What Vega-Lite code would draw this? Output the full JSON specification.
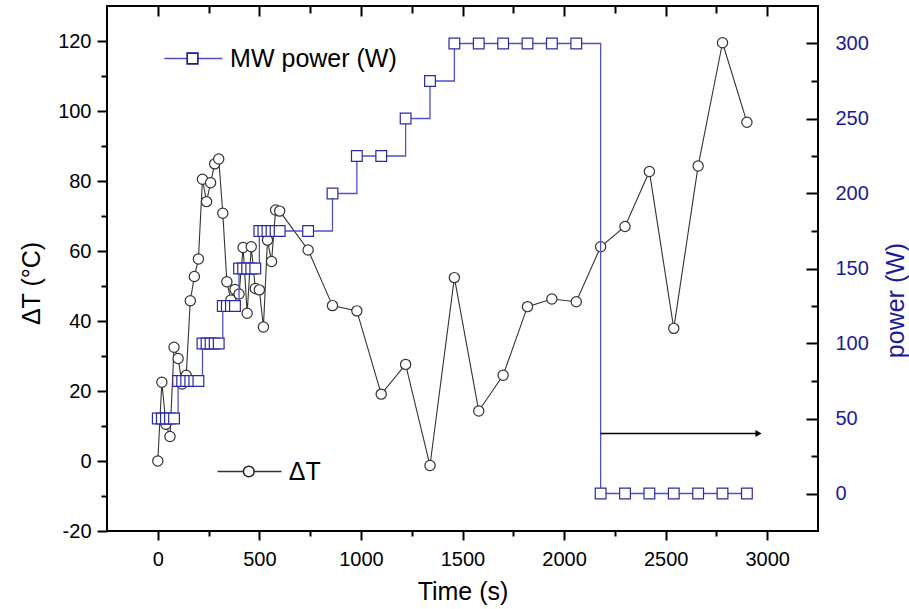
{
  "$schema": "https://vega.github.io/schema/vega-lite/v6.json",
  "width": 711,
  "height": 525,
  "autosize": {"type": "none"},
  "padding": {"left": 107, "top": 6, "right": 91, "bottom": 78},
  "background": "white",
  "config": {
    "view": {"stroke": "black", "strokeWidth": 2},
    "font": "Liberation Sans",
    "axis": {
      "grid": false,
      "domain": false,
      "labelFont": "Liberation Sans",
      "labelFontSize": 20,
      "labelColor": "black",
      "titleFont": "Liberation Sans",
      "titleFontSize": 25,
      "titleFontWeight": "normal",
      "titleColor": "black",
      "tickColor": "black",
      "tickWidth": 2,
      "labelFlush": false,
      "labelOverlap": false
    }
  },
  "datasets": {
    "dT": [
      {"t": 0, "T": 0}, {"t": 20, "T": 22.5}, {"t": 40, "T": 10.5}, {"t": 60, "T": 7},
      {"t": 80, "T": 32.5}, {"t": 100, "T": 29.3}, {"t": 120, "T": 22}, {"t": 140, "T": 24.5},
      {"t": 160, "T": 45.8}, {"t": 180, "T": 52.7}, {"t": 200, "T": 57.7}, {"t": 220, "T": 80.5},
      {"t": 240, "T": 74.1}, {"t": 260, "T": 79.5}, {"t": 280, "T": 84.9}, {"t": 300, "T": 86.3},
      {"t": 320, "T": 70.8}, {"t": 340, "T": 51.2}, {"t": 360, "T": 46}, {"t": 380, "T": 49},
      {"t": 400, "T": 47.7}, {"t": 420, "T": 61}, {"t": 440, "T": 42.2}, {"t": 460, "T": 61.2},
      {"t": 480, "T": 49.3}, {"t": 500, "T": 48.9}, {"t": 520, "T": 38.3}, {"t": 540, "T": 63.1},
      {"t": 560, "T": 57}, {"t": 580, "T": 71.7}, {"t": 600, "T": 71.4}, {"t": 740, "T": 60.3},
      {"t": 860, "T": 44.4}, {"t": 980, "T": 42.9}, {"t": 1100, "T": 19.1}, {"t": 1220, "T": 27.6},
      {"t": 1340, "T": -1.3}, {"t": 1460, "T": 52.4}, {"t": 1580, "T": 14.3}, {"t": 1700, "T": 24.5},
      {"t": 1820, "T": 44.1}, {"t": 1940, "T": 46.3}, {"t": 2060, "T": 45.5}, {"t": 2180, "T": 61.2},
      {"t": 2300, "T": 67}, {"t": 2420, "T": 82.7}, {"t": 2540, "T": 37.9}, {"t": 2660, "T": 84.3},
      {"t": 2780, "T": 119.5}, {"t": 2900, "T": 96.8}
    ],
    "pw": [
      {"t": 0, "P": 50}, {"t": 20, "P": 50}, {"t": 40, "P": 50}, {"t": 60, "P": 50}, {"t": 80, "P": 50},
      {"t": 100, "P": 75}, {"t": 120, "P": 75}, {"t": 140, "P": 75}, {"t": 160, "P": 75}, {"t": 180, "P": 75}, {"t": 200, "P": 75},
      {"t": 220, "P": 100}, {"t": 240, "P": 100}, {"t": 260, "P": 100}, {"t": 280, "P": 100}, {"t": 300, "P": 100},
      {"t": 320, "P": 125}, {"t": 340, "P": 125}, {"t": 360, "P": 125}, {"t": 380, "P": 125},
      {"t": 400, "P": 150}, {"t": 420, "P": 150}, {"t": 440, "P": 150}, {"t": 460, "P": 150}, {"t": 480, "P": 150},
      {"t": 500, "P": 175}, {"t": 520, "P": 175}, {"t": 540, "P": 175}, {"t": 560, "P": 175}, {"t": 580, "P": 175}, {"t": 600, "P": 175},
      {"t": 740, "P": 175}, {"t": 860, "P": 200}, {"t": 980, "P": 225}, {"t": 1100, "P": 225},
      {"t": 1220, "P": 250}, {"t": 1340, "P": 275},
      {"t": 1460, "P": 300}, {"t": 1580, "P": 300}, {"t": 1700, "P": 300}, {"t": 1820, "P": 300}, {"t": 1940, "P": 300}, {"t": 2060, "P": 300},
      {"t": 2180, "P": 0}, {"t": 2300, "P": 0}, {"t": 2420, "P": 0}, {"t": 2540, "P": 0}, {"t": 2660, "P": 0}, {"t": 2780, "P": 0}, {"t": 2900, "P": 0}
    ]
  },
  "resolve": {"scale": {"y": "independent"}, "axis": {"x": "independent", "y": "independent"}},
  "layer": [
    {
      "data": {"name": "dT"},
      "mark": {"type": "line", "color": "#333333", "strokeWidth": 1.1},
      "encoding": {
        "x": {"field": "t", "type": "quantitative",
              "scale": {"domain": [-250, 3250], "nice": false, "zero": false},
              "axis": {"orient": "bottom", "values": [0, 500, 1000, 1500, 2000, 2500, 3000], "labelExpr": "'' + datum.value", "tickSize": 9, "labelPadding": 9, "title": "Time (s)", "titleX": 355.5, "titleY": 60, "titleBaseline": "middle", "titleAlign": "center"}},
        "y": {"field": "T", "type": "quantitative",
              "scale": {"domain": [-20, 130], "nice": false, "zero": false},
              "axis": {"orient": "left", "values": [-20, 0, 20, 40, 60, 80, 100, 120], "labelExpr": "'' + datum.value", "tickSize": 10, "labelPadding": 6, "title": "ΔT (°C)", "titleAngle": 270, "titleX": -76, "titleY": 277, "titleBaseline": "middle", "titleAlign": "center"}}
      }
    },
    {
      "data": {"name": "dT"},
      "mark": {"type": "point", "shape": "circle", "filled": true, "fill": "white", "stroke": "#333333", "strokeWidth": 1.2, "size": 105, "opacity": 1},
      "encoding": {
        "x": {"field": "t", "type": "quantitative", "scale": {"domain": [-250, 3250], "nice": false, "zero": false}, "axis": null},
        "y": {"field": "T", "type": "quantitative", "scale": {"domain": [-20, 130], "nice": false, "zero": false}, "axis": null}
      }
    },
    {
      "data": {"values": [{"t": 0, "T": 0}]},
      "mark": {"type": "point", "opacity": 0},
      "encoding": {
        "x": {"field": "t", "type": "quantitative", "scale": {"domain": [-250, 3250], "nice": false, "zero": false},
              "axis": {"orient": "bottom", "values": [250, 750, 1250, 1750, 2250, 2750], "tickSize": 5, "labels": false, "title": null}},
        "y": {"field": "T", "type": "quantitative", "scale": {"domain": [-20, 130], "nice": false, "zero": false},
              "axis": {"orient": "left", "values": [-10, 10, 30, 50, 70, 90, 110], "tickSize": 6, "labels": false, "title": null}}
      }
    },
    {
      "data": {"values": [{"t": 0, "T": 0}]},
      "mark": {"type": "point", "opacity": 0},
      "encoding": {
        "x": {"field": "t", "type": "quantitative", "scale": {"domain": [-250, 3250], "nice": false, "zero": false},
              "axis": {"orient": "top", "values": [250, 750, 1250, 1750, 2250, 2750], "offset": -7, "tickSize": 7, "labels": false, "title": null}},
        "y": {"field": "T", "type": "quantitative", "scale": {"domain": [-20, 130], "nice": false, "zero": false}, "axis": null}
      }
    },
    {
      "data": {"name": "pw"},
      "mark": {"type": "line", "interpolate": "step-after", "color": "#5050c8", "strokeWidth": 1.3},
      "encoding": {
        "x": {"field": "t", "type": "quantitative", "scale": {"domain": [-250, 3250], "nice": false, "zero": false},
              "axis": {"orient": "top", "values": [0, 500, 1000, 1500, 2000, 2500, 3000], "offset": -10, "tickSize": 10, "labels": false, "title": null}},
        "y": {"field": "P", "type": "quantitative", "scale": {"domain": [-25, 325], "nice": false, "zero": false},
              "axis": {"orient": "right", "values": [0, 50, 100, 150, 200, 250, 300], "offset": -12, "tickSize": 12, "labelPadding": 17, "labelColor": "#1a1a9c", "title": "power (W)", "titleColor": "#1a1a9c", "titleAngle": 270, "titleX": 89, "titleY": 294, "titleBaseline": "middle", "titleAlign": "center"}}
      }
    },
    {
      "data": {"name": "pw"},
      "mark": {"type": "point", "shape": "square", "filled": true, "fill": "white", "stroke": "#2a2aa0", "strokeWidth": 1.2, "size": 115, "opacity": 1},
      "encoding": {
        "x": {"field": "t", "type": "quantitative", "scale": {"domain": [-250, 3250], "nice": false, "zero": false}, "axis": null},
        "y": {"field": "P", "type": "quantitative", "scale": {"domain": [-25, 325], "nice": false, "zero": false},
              "axis": {"orient": "right", "values": [25, 75, 125, 175, 225, 275], "offset": -7, "tickSize": 7, "labels": false, "title": null}}
      }
    },
    {
      "data": {"values": [{"t1": 2180, "t2": 2950, "P": 40}]},
      "mark": {"type": "rule", "color": "black", "strokeWidth": 1.5},
      "encoding": {
        "x": {"field": "t1", "type": "quantitative", "scale": {"domain": [-250, 3250], "nice": false, "zero": false}, "axis": null},
        "x2": {"field": "t2"},
        "y": {"field": "P", "type": "quantitative", "scale": {"domain": [-25, 325], "nice": false, "zero": false}, "axis": null}
      }
    },
    {
      "data": {"values": [{"t": 2957, "P": 40}]},
      "mark": {"type": "point", "shape": "triangle-right", "filled": true, "color": "black", "size": 50, "opacity": 1},
      "encoding": {
        "x": {"field": "t", "type": "quantitative", "scale": {"domain": [-250, 3250], "nice": false, "zero": false}, "axis": null},
        "y": {"field": "P", "type": "quantitative", "scale": {"domain": [-25, 325], "nice": false, "zero": false}, "axis": null}
      }
    },
    {
      "data": {"values": [{"t1": 32, "t2": 318, "P": 290}]},
      "mark": {"type": "rule", "color": "#5050c8", "strokeWidth": 1.3},
      "encoding": {
        "x": {"field": "t1", "type": "quantitative", "scale": {"domain": [-250, 3250], "nice": false, "zero": false}, "axis": null},
        "x2": {"field": "t2"},
        "y": {"field": "P", "type": "quantitative", "scale": {"domain": [-25, 325], "nice": false, "zero": false}, "axis": null}
      }
    },
    {
      "data": {"values": [{"t": 171, "P": 290}]},
      "mark": {"type": "point", "shape": "square", "filled": true, "fill": "white", "stroke": "#1a1a90", "strokeWidth": 1.6, "size": 115, "opacity": 1},
      "encoding": {
        "x": {"field": "t", "type": "quantitative", "scale": {"domain": [-250, 3250], "nice": false, "zero": false}, "axis": null},
        "y": {"field": "P", "type": "quantitative", "scale": {"domain": [-25, 325], "nice": false, "zero": false}, "axis": null}
      }
    },
    {
      "data": {"values": [{"t": 356, "P": 290, "label": "MW power (W)"}]},
      "mark": {"type": "text", "align": "left", "baseline": "middle", "fontSize": 25, "font": "Liberation Sans", "color": "black"},
      "encoding": {
        "x": {"field": "t", "type": "quantitative", "scale": {"domain": [-250, 3250], "nice": false, "zero": false}, "axis": null},
        "y": {"field": "P", "type": "quantitative", "scale": {"domain": [-25, 325], "nice": false, "zero": false}, "axis": null},
        "text": {"field": "label"}
      }
    },
    {
      "data": {"values": [{"t1": 294, "t2": 609, "T": -3}]},
      "mark": {"type": "rule", "color": "#333333", "strokeWidth": 1.3},
      "encoding": {
        "x": {"field": "t1", "type": "quantitative", "scale": {"domain": [-250, 3250], "nice": false, "zero": false}, "axis": null},
        "x2": {"field": "t2"},
        "y": {"field": "T", "type": "quantitative", "scale": {"domain": [-20, 130], "nice": false, "zero": false}, "axis": null}
      }
    },
    {
      "data": {"values": [{"t": 448, "T": -3}]},
      "mark": {"type": "point", "shape": "circle", "filled": true, "fill": "white", "stroke": "#222222", "strokeWidth": 1.5, "size": 115, "opacity": 1},
      "encoding": {
        "x": {"field": "t", "type": "quantitative", "scale": {"domain": [-250, 3250], "nice": false, "zero": false}, "axis": null},
        "y": {"field": "T", "type": "quantitative", "scale": {"domain": [-20, 130], "nice": false, "zero": false}, "axis": null}
      }
    },
    {
      "data": {"values": [{"t": 645, "T": -3, "label": "ΔT"}]},
      "mark": {"type": "text", "align": "left", "baseline": "middle", "fontSize": 25, "font": "Liberation Sans", "color": "black"},
      "encoding": {
        "x": {"field": "t", "type": "quantitative", "scale": {"domain": [-250, 3250], "nice": false, "zero": false}, "axis": null},
        "y": {"field": "T", "type": "quantitative", "scale": {"domain": [-20, 130], "nice": false, "zero": false}, "axis": null},
        "text": {"field": "label"}
      }
    }
  ]
}
